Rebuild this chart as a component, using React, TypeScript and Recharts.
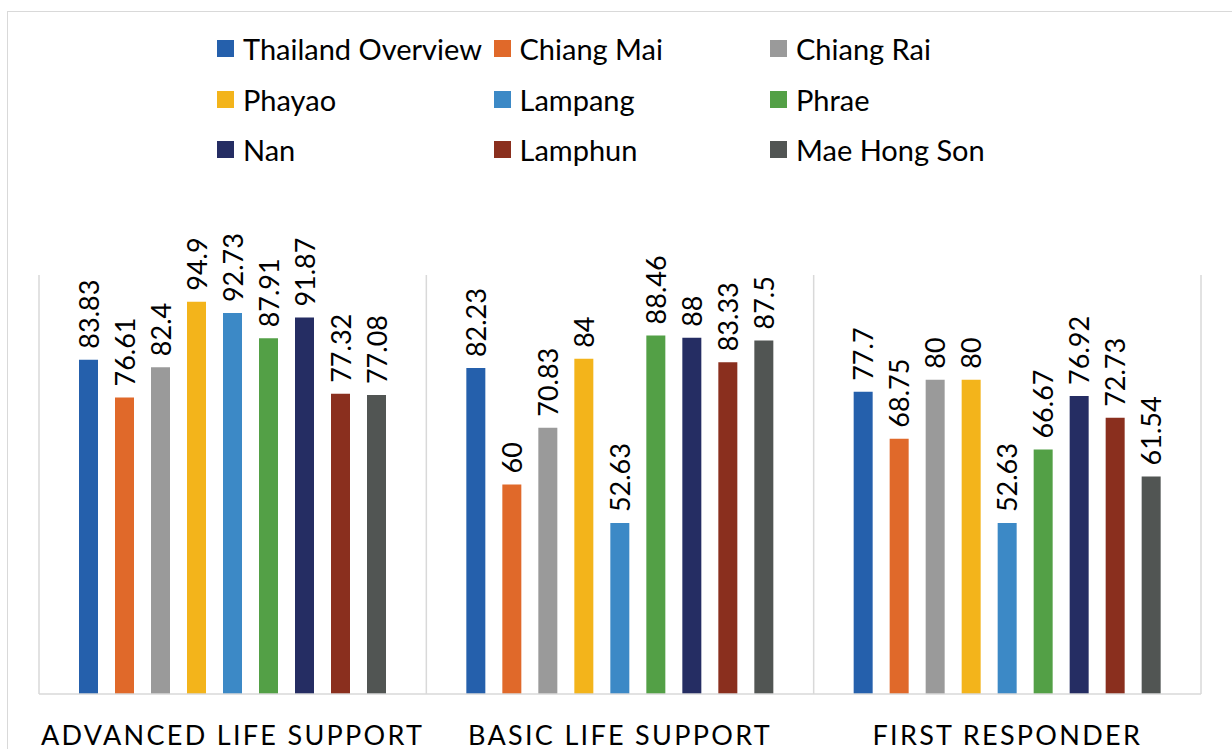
import { Bar, BarChart, CartesianGrid, LabelList, XAxis, YAxis } from 'recharts';

const categories = ['ADVANCED LIFE SUPPORT', 'BASIC LIFE SUPPORT', 'FIRST RESPONDER'];

const seriesNames = [
  'Thailand Overview',
  'Chiang Mai',
  'Chiang Rai',
  'Phayao',
  'Lampang',
  'Phrae',
  'Nan',
  'Lamphun',
  'Mae Hong Son',
];

const seriesColors = ['#2560AC', '#E0692A', '#9A9A9A', '#F3B41B', '#3C89C6', '#53A046', '#252D63', '#8A2F1E', '#515553'];

// one value per category, same order as `categories`
const thailandOverview = [83.83, 82.23, 77.7];
const chiangMai = [76.61, 60, 68.75];
const chiangRai = [82.4, 70.83, 80];
const phayao = [94.9, 84, 80];
const lampang = [92.73, 52.63, 52.63];
const phrae = [87.91, 88.46, 66.67];
const nan = [91.87, 88, 76.92];
const lamphun = [77.32, 83.33, 72.73];
const maeHongSon = [77.08, 87.5, 61.54];

const seriesValues = [thailandOverview, chiangMai, chiangRai, phayao, lampang, phrae, nan, lamphun, maeHongSon];

const yDomain = [20, 100];

const data = categories.map((name, ci) => {
  const row: Record<string, string | number> = { name };
  seriesNames.forEach((s, si) => {
    row[s] = seriesValues[si][ci];
  });
  return row;
});

const FONT = 'Lato, "Open Sans", sans-serif';

function ValueLabel(props: any) {
  const { x, y, width, value } = props;
  const cx = x + width / 2 + 10;
  const top = y - 11;
  return (
    <text transform={`translate(${cx}, ${top}) rotate(-90)`} fontSize={27} fontFamily={FONT} fill="#000" textAnchor="start">
      {value}
    </text>
  );
}

function CategoryTick(props: any) {
  const { x, y, payload } = props;
  return (
    <text x={x} y={y + 43} textAnchor="middle" fontSize={27} fontFamily={FONT} fill="#000" letterSpacing={2.3}>
      {payload.value}
    </text>
  );
}

function LegendBlock() {
  return (
    <div
      style={{
        position: 'absolute',
        left: 217,
        top: 23,
        display: 'grid',
        gridTemplateColumns: 'repeat(3, 276.5px)',
        gridAutoRows: '50.7px',
        fontFamily: FONT,
        fontSize: 29,
        color: '#000',
      }}
    >
      {seriesNames.map((s, i) => (
        <div key={s} style={{ display: 'flex', alignItems: 'center', whiteSpace: 'nowrap' }}>
          <span style={{ width: 17, height: 17, background: seriesColors[i], marginRight: 9, flex: 'none' }} />
          {s}
        </div>
      ))}
    </div>
  );
}

export default function App() {
  return (
    <div style={{ position: 'absolute', left: 0, top: 0, width: 1232, height: 749, background: '#fff', overflow: 'hidden' }}>
      <div
        style={{
          position: 'absolute',
          left: 7,
          top: 11,
          width: 1240,
          height: 760,
          borderLeft: '1px solid #d9d9d9',
          borderTop: '1px solid #d9d9d9',
        }}
      />
      <LegendBlock />
      <div style={{ position: 'absolute', left: 0, top: 0 }}>
        <BarChart
          width={1232}
          height={749}
          data={data}
          margin={{ top: 275, right: 31, bottom: 0, left: 39 }}
          barSize={19}
          barGap={17}
        >
          <CartesianGrid
            horizontal={false}
            stroke="#d9d9d9"
            strokeWidth={1.5}
            verticalCoordinatesGenerator={({ offset }: any) =>
              [0, 1, 2, 3].map((i) => offset.left + (i * offset.width) / categories.length)
            }
          />
          <XAxis
            dataKey="name"
            height={55}
            axisLine={{ stroke: '#d9d9d9', strokeWidth: 1.5 }}
            tickLine={false}
            interval={0}
            tick={<CategoryTick />}
          />
          <YAxis hide domain={yDomain} allowDataOverflow />
          {seriesNames.map((s, i) => (
            <Bar key={s} dataKey={s} fill={seriesColors[i]} isAnimationActive={false}>
              <LabelList dataKey={s} content={<ValueLabel />} />
            </Bar>
          ))}
        </BarChart>
      </div>
    </div>
  );
}
